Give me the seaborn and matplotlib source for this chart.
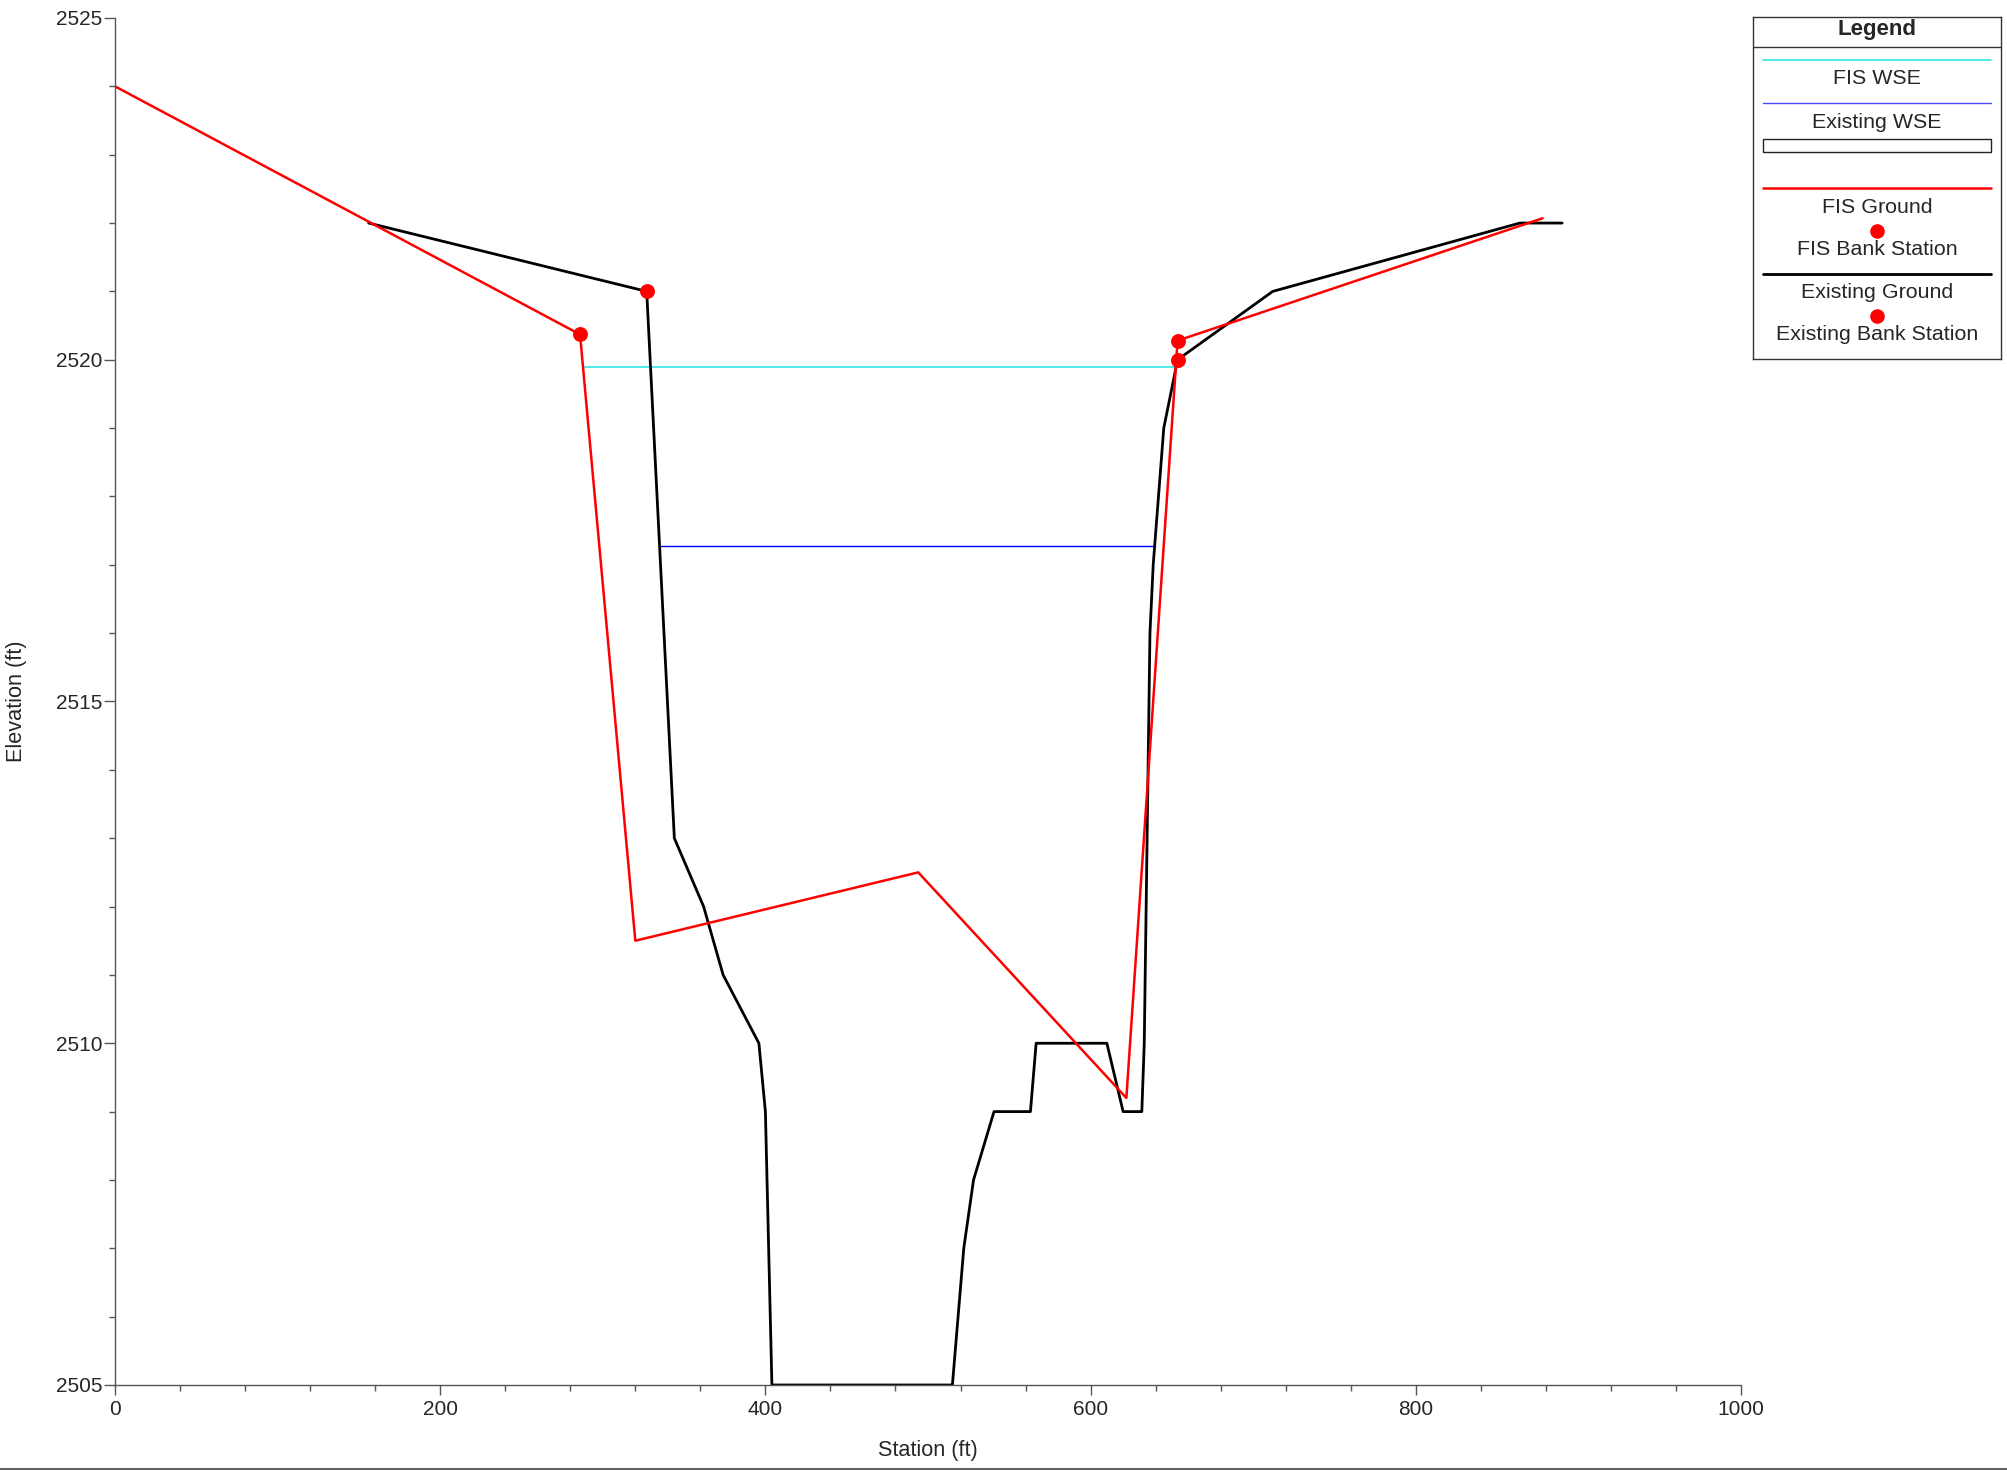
import numpy as np
import pandas as pd
import matplotlib
matplotlib.use("Agg")
import matplotlib.pyplot as plt
from matplotlib.lines import Line2D
from matplotlib.patches import Rectangle
from matplotlib.ticker import MultipleLocator, FormatStrFormatter
import seaborn as sns

# --- cross-section data (station ft, elevation ft) ---
fis_station = [0, 286, 320, 494, 622, 653.5, 878]
fis_elev = [2524.0, 2520.37, 2511.5, 2512.5, 2509.2, 2520.28, 2522.07]

exist_station = [156, 327, 344, 362, 374, 396, 400, 404, 515, 522, 528, 540.6,
                 563, 566.5, 610, 620, 631.5, 633, 636.5, 638.5, 645, 653.5,
                 712, 864, 890]
exist_elev = [2522.0, 2521.0, 2513.0, 2512.0, 2511.0, 2510.0, 2509.0, 2505.0,
              2505.0, 2507.0, 2508.0, 2509.0, 2509.0, 2510.0, 2510.0, 2509.0,
              2509.0, 2510.0, 2516.0, 2517.0, 2519.0, 2520.0, 2521.0, 2522.0,
              2522.0]

fis_bank_station = [286, 653.5]
fis_bank_elev = [2520.37, 2520.28]
exist_bank_station = [327, 653.5]
exist_bank_elev = [2521.0, 2520.0]

# water surface elevations and their wetted extents
fis_wse = 2519.9
fis_wse_extent = [287.8, 652.4]
exist_wse = 2517.28
exist_wse_extent = [334.9, 639.4]

legend_labels = ["FIS WSE", "Existing WSE", "", "FIS Ground", "FIS Bank Station",
                 "Existing Ground", "Existing Bank Station"]

# --- styling ---
sns.set_theme(style="white")
plt.rcParams["font.family"] = ["Liberation Sans", "DejaVu Sans"]
plt.rcParams["font.size"] = 15

W, H = 2007, 1470
fig = plt.figure(figsize=(W / 100, H / 100), dpi=100)
ax = fig.add_axes([115 / W, 1 - 1385 / H, (1741 - 115) / W, (1385 - 18) / H])

CYAN = "#1ee6e6"
BLUE = "#0000ff"
RED = "#ff0000"
BLACK = "#000000"

fis_df = pd.DataFrame({"Station": fis_station, "Elevation": fis_elev})
ex_df = pd.DataFrame({"Station": exist_station, "Elevation": exist_elev})
fis_wse_df = pd.DataFrame({"Station": fis_wse_extent, "Elevation": [fis_wse] * 2})
ex_wse_df = pd.DataFrame({"Station": exist_wse_extent, "Elevation": [exist_wse] * 2})

sns.lineplot(data=fis_wse_df, x="Station", y="Elevation", ax=ax, color=CYAN,
             lw=1.1, sort=False, estimator=None)
sns.lineplot(data=ex_wse_df, x="Station", y="Elevation", ax=ax, color=BLUE,
             lw=1.0, sort=False, estimator=None)
sns.lineplot(data=ex_df, x="Station", y="Elevation", ax=ax, color=BLACK,
             lw=2.0, sort=False, estimator=None)
sns.lineplot(data=fis_df, x="Station", y="Elevation", ax=ax, color=RED,
             lw=1.8, sort=False, estimator=None)
sns.scatterplot(x=fis_bank_station, y=fis_bank_elev, ax=ax, color=RED, s=115,
                linewidth=0, zorder=5)
sns.scatterplot(x=exist_bank_station, y=exist_bank_elev, ax=ax, color=RED, s=115,
                linewidth=0, zorder=5)

ax.set_xlim(0, 1000)
ax.set_ylim(2505, 2525)
ax.xaxis.set_major_locator(MultipleLocator(200))
ax.xaxis.set_minor_locator(MultipleLocator(40))
ax.yaxis.set_major_locator(MultipleLocator(5))
ax.yaxis.set_minor_locator(MultipleLocator(1))
ax.xaxis.set_major_formatter(FormatStrFormatter("%d"))
ax.yaxis.set_major_formatter(FormatStrFormatter("%d"))

for side in ["top", "right"]:
    ax.spines[side].set_visible(False)
for side in ["left", "bottom"]:
    ax.spines[side].set_color("#555555")
    ax.spines[side].set_linewidth(1.0)

ax.tick_params(axis="x", which="major", direction="out", length=7, width=1,
               color="#555555", pad=4, labelsize=15, bottom=True)
ax.tick_params(axis="x", which="minor", direction="out", length=4.5, width=1,
               color="#555555", bottom=True)
ax.tick_params(axis="y", which="major", direction="out", length=8, width=1,
               color="#555555", pad=1, labelsize=15, left=True)
ax.tick_params(axis="y", which="minor", direction="out", length=4, width=1,
               color="#555555", left=True)

ax.set_xlabel("Station (ft)", fontsize=15.6, labelpad=15)
ax.set_ylabel("Elevation (ft)", fontsize=15.6, labelpad=21)

# --- boxed legend with symbols stacked above labels ---
lx0, lx1 = 1752.7, 2001.0
ly0, ly1 = 17.3, 359.0
lw_px, lh_px = lx1 - lx0, ly1 - ly0
lax = fig.add_axes([lx0 / W, 1 - ly1 / H, lw_px / W, lh_px / H])
lax.set_xlim(0, lw_px)
lax.set_ylim(lh_px, 0)
lax.set_xticks([])
lax.set_yticks([])
for sp in lax.spines.values():
    sp.set_color("#333333")
    sp.set_linewidth(1.0)
    sp.set_visible(True)
lax.set_facecolor("white")

cx = lw_px / 2
xa, xb = 10.3, 238.0
fs = 15.4
lax.text(cx, 12.7, "Legend", ha="center", va="center", fontsize=16, fontweight="bold")
lax.plot([0, lw_px], [29.4, 29.4], color="#333333", lw=1.0)

lax.plot([xa, xb], [42.7, 42.7], color=CYAN, lw=1.1)
lax.text(cx, 61.7, legend_labels[0], ha="center", va="center", fontsize=fs)
lax.plot([xa, xb], [85.4, 85.4], color="#4a4aff", lw=1.0)
lax.text(cx, 105.0, legend_labels[1], ha="center", va="center", fontsize=fs)
lax.add_patch(Rectangle((xa, 122.0), xb - xa, 12.4, facecolor="white",
                        edgecolor="#222222", lw=1.0))
lax.plot([xa, xb], [171.0, 171.0], color=RED, lw=1.8)
lax.text(cx, 190.0, legend_labels[3], ha="center", va="center", fontsize=fs)
lax.plot([cx], [213.4], "o", color=RED, ms=10.5, mew=0)
lax.text(cx, 232.0, legend_labels[4], ha="center", va="center", fontsize=fs)
lax.plot([xa, xb], [256.7, 256.7], color=BLACK, lw=2.0)
lax.text(cx, 275.0, legend_labels[5], ha="center", va="center", fontsize=fs)
lax.plot([cx], [298.4], "o", color=RED, ms=10.5, mew=0)
lax.text(cx, 317.0, legend_labels[6], ha="center", va="center", fontsize=fs)

# thin rule along the bottom edge of the figure
fig.add_artist(Line2D([0, 1], [0.6 / H, 0.6 / H], transform=fig.transFigure,
                      color="#666666", lw=1.5))

fig.savefig("out.png", dpi=100)
